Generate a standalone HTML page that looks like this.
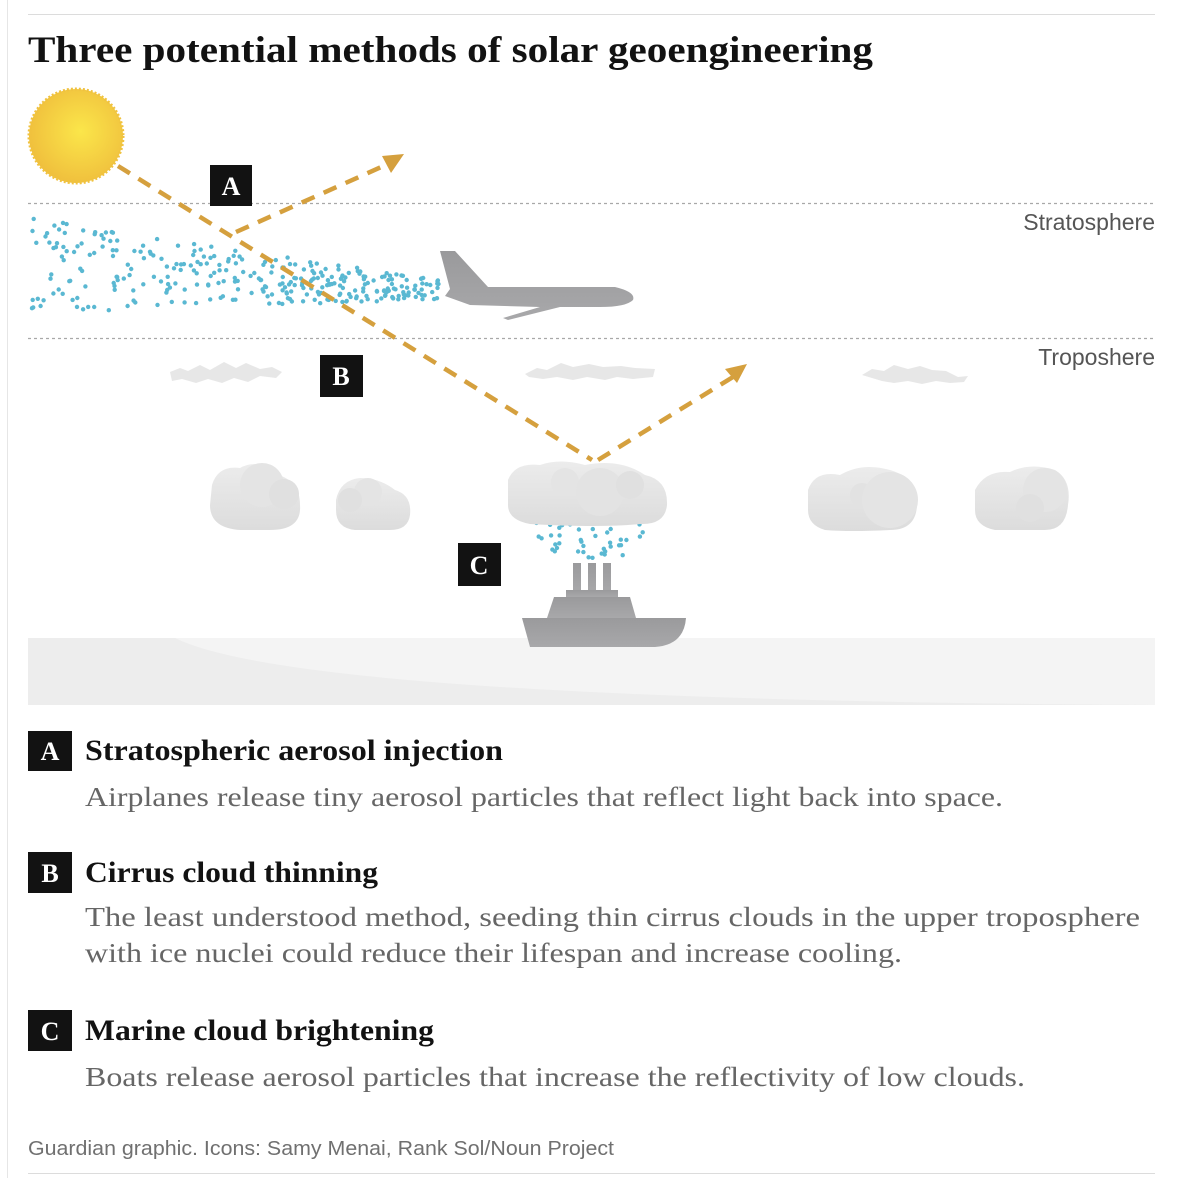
<!DOCTYPE html>
<html><head><meta charset="utf-8">
<style>
html,body{margin:0;padding:0;background:#fff;}
svg{display:block;}
.serif{font-family:"Liberation Serif",serif;}
.sans{font-family:"Liberation Sans",sans-serif;}
</style></head>
<body>
<svg id="s" width="1186" height="1178" viewBox="0 0 1186 1178" xmlns="http://www.w3.org/2000/svg">
<defs>
<radialGradient id="sun" cx="0.55" cy="0.45" r="0.6">
<stop offset="0" stop-color="#fbe64a"/><stop offset="1" stop-color="#efbd3c"/>
</radialGradient>
<linearGradient id="cl" x1="0" y1="0" x2="0" y2="1">
<stop offset="0" stop-color="#ececec"/><stop offset="1" stop-color="#dcdcdc"/>
</linearGradient>
<linearGradient id="gr" x1="0" y1="0" x2="0" y2="1">
<stop offset="0" stop-color="#9a9a9c"/><stop offset="1" stop-color="#a8a8aa"/>
</linearGradient>
</defs>
<line x1="7.5" y1="0" x2="7.5" y2="1178" stroke="#e6e6e6" stroke-width="1"/>
<line x1="28" y1="14.5" x2="1155" y2="14.5" stroke="#dcdcdc"/>
<line x1="28" y1="1173.5" x2="1155" y2="1173.5" stroke="#dcdcdc"/>
<text x="28" y="62" class="serif" font-weight="bold" font-size="37" fill="#121212" textLength="845" lengthAdjust="spacingAndGlyphs">Three potential methods of solar geoengineering</text>

<rect x="28" y="638" width="1127" height="67" fill="#f4f4f4"/>
<path d="M175 638 Q 300 700 1155 705 L 28 705 L 28 638 Z" fill="#ededed"/>

<line x1="28" y1="203.5" x2="1155" y2="203.5" stroke="#a8a8a8" stroke-width="1.2" stroke-dasharray="3 3"/>
<line x1="28" y1="338.5" x2="1155" y2="338.5" stroke="#a8a8a8" stroke-width="1.2" stroke-dasharray="3 3"/>
<text x="1155" y="230" text-anchor="end" class="sans" font-size="23" fill="#555">Stratosphere</text>
<text x="1155" y="365" text-anchor="end" class="sans" font-size="23" fill="#555">Troposhere</text>

<circle cx="76" cy="136" r="47" fill="url(#sun)" stroke="#f0c23f" stroke-width="3" stroke-dasharray="2 2"/>

<g id="dots" fill="#5ab8d2"></g>

<g fill="url(#gr)">
<path d="M440 251 L455 251 L488 287 L615 287 Q636 292 633 300 Q626 307 600 307 L560 307 L508 320 L503 318 L540 307 L470 305 L445 296 L450 289 Z"/>
</g>

<g fill="#e6e6e6" opacity="0.95">
<path d="M170 372 l10 -4 8 3 12 -6 10 5 14 -8 12 6 10 -5 14 6 12 -2 10 5 -6 6 -16 -2 -12 6 -14 -4 -12 5 -14 -4 -12 4 -14 -4 -10 2 z"/>
<path d="M525 374 l12 -6 10 2 14 -7 12 4 16 -3 14 3 18 -1 14 2 20 1 -2 8 -20 2 -16 -2 -12 3 -18 -3 -14 3 -16 -3 -14 2 -14 -2 z"/>
<path d="M862 375 l10 -6 12 2 10 -6 14 4 12 -3 12 4 14 1 12 6 10 -1 -4 6 -14 1 -14 -2 -14 3 -14 -3 -14 2 -12 -2 z"/>
</g>

<g fill="url(#cl)">
<path d="M212 485 Q218 465 240 468 Q258 458 275 474 Q300 480 300 505 Q302 530 270 530 L240 530 Q210 528 210 505 Z"/>
<circle cx="262" cy="485" r="22" fill="#e4e4e4"/><circle cx="284" cy="494" r="15" fill="#e0e0e0"/>
<path d="M336 500 Q340 480 360 478 Q380 478 395 490 Q412 495 410 515 Q408 530 390 530 L355 530 Q336 528 336 510 Z"/>
<circle cx="368" cy="492" r="14" fill="#e4e4e4"/><circle cx="350" cy="500" r="12" fill="#e0e0e0"/>
<path d="M508 480 Q515 462 540 465 Q560 458 585 465 Q620 458 645 475 Q668 480 667 505 Q665 525 640 524 Q600 528 530 524 Q508 520 508 505 Z"/>
<circle cx="565" cy="482" r="14" fill="#e4e4e4"/><circle cx="600" cy="492" r="24" fill="#e3e3e3"/><circle cx="630" cy="485" r="14" fill="#e0e0e0"/>
<path d="M808 490 Q815 470 840 475 Q862 462 890 470 Q918 478 917 505 Q916 530 890 530 Q850 532 825 530 Q808 525 808 510 Z"/>
<circle cx="862" cy="495" r="12" fill="#e2e2e2"/><circle cx="890" cy="500" r="28" fill="#e4e4e4"/>
<path d="M975 490 Q985 470 1010 472 Q1030 462 1055 470 Q1072 480 1068 505 Q1066 530 1045 530 L995 530 Q975 526 975 510 Z"/>
<circle cx="1045" cy="490" r="22" fill="#e4e4e4"/><circle cx="1030" cy="508" r="14" fill="#e0e0e0"/>
</g>

<g stroke="#d5a03e" stroke-width="4.5" fill="none" stroke-dasharray="14 10">
<line x1="118" y1="166" x2="592" y2="460"/>
<line x1="598" y1="460" x2="733" y2="377"/>
<line x1="236" y1="232" x2="388" y2="164"/>
</g>
<g fill="#d5a03e">
<polygon points="404,154 382,156 391,173"/>
<polygon points="747,364 725,369 737,383"/>
</g>

<g fill="url(#gr)">
<rect x="573" y="563" width="8" height="30"/>
<rect x="588" y="563" width="8" height="30"/>
<rect x="603" y="563" width="8" height="30"/>
<rect x="566" y="590" width="52" height="7"/>
<path d="M554 597 L630 597 L636 618 L547 618 Z"/>
<path d="M522 618 L686 618 Q684 645 655 647 L530 647 Z"/>
</g>

<g class="serif" font-weight="bold" fill="#fff" text-anchor="middle" font-size="26">
<rect x="210" y="165" width="42" height="41" fill="#121212"/><text x="231" y="195">A</text>
<rect x="320" y="355" width="43" height="42" fill="#121212"/><text x="341" y="385">B</text>
<rect x="458" y="543" width="43" height="43" fill="#121212"/><text x="479" y="574">C</text>
<rect x="28" y="731" width="44" height="40" fill="#121212"/><text x="50" y="760">A</text>
<rect x="28" y="852" width="44" height="41" fill="#121212"/><text x="50" y="882">B</text>
<rect x="28" y="1010" width="44" height="41" fill="#121212"/><text x="50" y="1040">C</text>
</g>

<g class="serif">
<text x="85" y="760" font-weight="bold" font-size="30" fill="#121212" textLength="418" lengthAdjust="spacingAndGlyphs">Stratospheric aerosol injection</text>
<text x="85" y="806" font-size="27" fill="#666" textLength="918" lengthAdjust="spacingAndGlyphs">Airplanes release tiny aerosol particles that reflect light back into space.</text>
<text x="85" y="882" font-weight="bold" font-size="30" fill="#121212" textLength="293" lengthAdjust="spacingAndGlyphs">Cirrus cloud thinning</text>
<text x="85" y="926" font-size="27" fill="#666" textLength="1055" lengthAdjust="spacingAndGlyphs">The least understood method, seeding thin cirrus clouds in the upper troposphere</text>
<text x="85" y="962" font-size="27" fill="#666" textLength="817" lengthAdjust="spacingAndGlyphs">with ice nuclei could reduce their lifespan and increase cooling.</text>
<text x="85" y="1040" font-weight="bold" font-size="30" fill="#121212" textLength="349" lengthAdjust="spacingAndGlyphs">Marine cloud brightening</text>
<text x="85" y="1086" font-size="27" fill="#666" textLength="940" lengthAdjust="spacingAndGlyphs">Boats release aerosol particles that increase the reflectivity of low clouds.</text>
</g>
<text x="28" y="1155" class="sans" font-size="20" fill="#707070" textLength="586" lengthAdjust="spacingAndGlyphs">Guardian graphic. Icons: Samy Menai, Rank Sol/Noun Project</text>
</svg>
<script>
(function(){
var seed=7;function r(){seed=(seed*16807)%2147483647;return (seed-1)/2147483646;}
var g=document.getElementById('dots'),h='';
for(var i=0;i<320;i++){
 var t=r(); var x=32+t*408;
 var top=218+t*62, bot=316-t*17;
 var y=top+r()*(bot-top);
 h+='<circle cx="'+x.toFixed(1)+'" cy="'+y.toFixed(1)+'" r="2.2"/>';
}
for(var j=0;j<45;j++){
 var u=r(); var yy=518+u*40; var w=70-u*40;
 var xx=590+(r()*2-1)*w;
 h+='<circle cx="'+xx.toFixed(1)+'" cy="'+yy.toFixed(1)+'" r="2.2"/>';
}
g.innerHTML=h;
})();
</script>
</body></html>
